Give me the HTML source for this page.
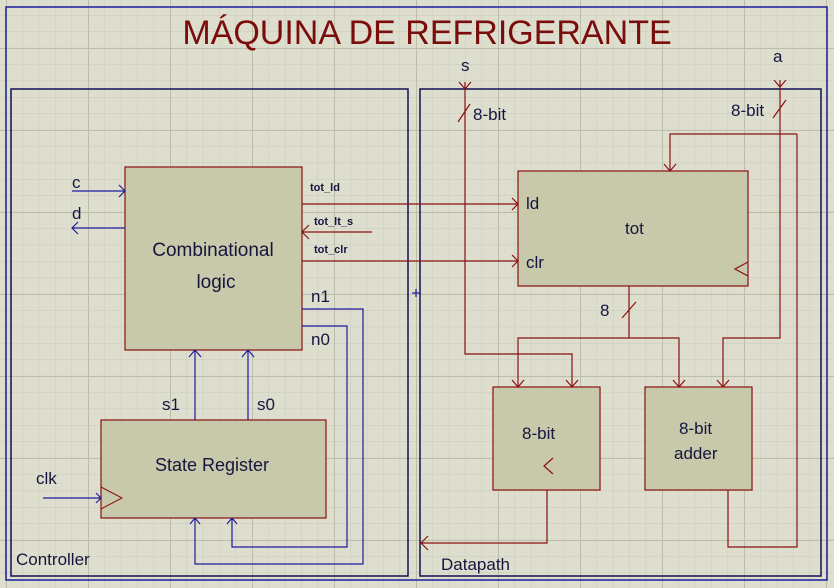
<!DOCTYPE html>
<html><head><style>
body{margin:0;width:834px;height:588px;overflow:hidden;background:#dedece}
svg{display:block}
text{font-family:"Liberation Sans",sans-serif;fill:#15153f}
</style></head><body>
<svg width="834" height="588" viewBox="0 0 834 588">
<defs>
<pattern id="minor" x="6" y="15" width="16.4" height="16.4" patternUnits="userSpaceOnUse">
<path d="M0 0V16.4M0 0H16.4" stroke="#cbcbbb" stroke-width="1" fill="none"/>
</pattern>
<pattern id="major" x="6" y="48" width="82" height="82" patternUnits="userSpaceOnUse">
<path d="M0 0V82M0 0H82" stroke="#bdbdac" stroke-width="2" fill="none"/>
</pattern>
</defs>
<rect width="834" height="588" fill="#dedece"/>
<rect width="834" height="588" fill="url(#minor)"/>
<rect width="834" height="588" fill="url(#major)"/>
<rect x="6" y="7" width="821" height="573" fill="none" stroke="#1c1ca0" stroke-width="1.5"/>
<text x="427" y="44" font-size="34" text-anchor="middle" style="fill:#7a0c0c">MÁQUINA DE REFRIGERANTE</text>
<rect x="11" y="89" width="397" height="487" fill="none" stroke="#101050" stroke-width="1.5"/>
<rect x="420" y="89" width="401" height="487" fill="none" stroke="#101050" stroke-width="1.5"/>
<g fill="#c8c8aa" stroke="#8b1010" stroke-width="1.2">
<rect x="125" y="167" width="177" height="183"/>
<rect x="101" y="420" width="225" height="98"/>
<rect x="518" y="171" width="230" height="115"/>
<rect x="493" y="387" width="107" height="103"/>
<rect x="645" y="387" width="107" height="103"/>
</g>
<g fill="none" stroke="#1c1ca0" stroke-width="1.2">
<path d="M72 191H125M119 185L125 191L119 197"/>
<path d="M125 228H72M78 222L72 228L78 234"/>
<path d="M302 309H363V564H195V518M190 524L195 518L200 524"/>
<path d="M302 326H347V547H232V518M227 524L232 518L237 524"/>
<path d="M195 420V350M189 357L195 350L201 357"/>
<path d="M248 420V350M242 357L248 350L254 357"/>
<path d="M43 498H101M96 493L101 498L96 503"/>
<path d="M416 289V297M412 293H420"/>
</g>
<path d="M101 487L122 498L101 509" fill="none" stroke="#8b1010"/>
<g fill="none" stroke="#8b1010" stroke-width="1.2">
<path d="M302 204H518M512 198L518 204L512 210"/>
<path d="M372 232H302M309 225L302 232L309 239"/>
<path d="M302 261H518M512 255L518 261L512 267"/>
<path d="M465 82V354H572V387M459 82L465 89L471 82M458 122L470 104M566 380L572 387L578 380"/>
<path d="M780 80V338H723V387M774 80L780 87L786 80M773 118L786 100M717 380L723 387L729 380"/>
<path d="M797 134H670V171M664 164L670 171L676 164"/>
<path d="M797 134V547H728V490"/>
<path d="M629 286V338H518V387M629 338H679V387M622 318L636 302M512 380L518 387L524 380M673 380L679 387L685 380"/>
<path d="M547 490V543H421M428 536L421 543L428 550"/>
<path d="M748 262L735 269L748 276"/>
<path d="M553 458L544 466L553 474"/>
</g>
<g font-size="17">
<text x="72" y="188">c</text>
<text x="72" y="219">d</text>
<text x="213" y="256" text-anchor="middle" font-size="19">Combinational</text>
<text x="216" y="288" text-anchor="middle" font-size="19">logic</text>
<text x="311" y="302">n1</text>
<text x="311" y="345">n0</text>
<text x="162" y="410">s1</text>
<text x="257" y="410">s0</text>
<text x="155" y="471" font-size="18">State Register</text>
<text x="36" y="484">clk</text>
<text x="16" y="565">Controller</text>
<text x="441" y="570">Datapath</text>
<text x="461" y="71">s</text>
<text x="773" y="62">a</text>
<text x="473" y="120">8-bit</text>
<text x="731" y="116">8-bit</text>
<text x="526" y="209">ld</text>
<text x="625" y="234">tot</text>
<text x="526" y="268">clr</text>
<text x="600" y="316">8</text>
<text x="522" y="439">8-bit</text>
<text x="679" y="434">8-bit</text>
<text x="674" y="459">adder</text>
</g>
<g font-size="11" font-weight="bold">
<text x="310" y="191">tot_ld</text>
<text x="314" y="225">tot_lt_s</text>
<text x="314" y="253">tot_clr</text>
</g>
</svg>
</body></html>
